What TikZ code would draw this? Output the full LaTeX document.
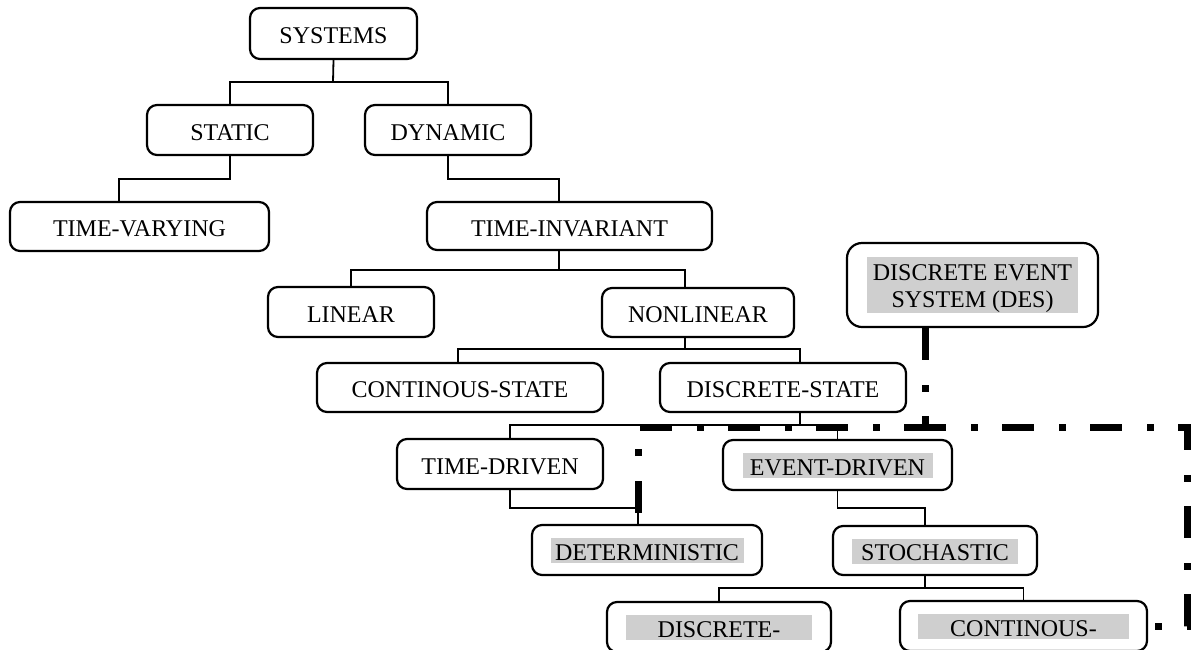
\documentclass[tikz,border=0pt]{standalone}
\usepackage{fontspec}
\setmainfont{Liberation Serif}
\usetikzlibrary{backgrounds}
\definecolor{hlgray}{gray}{0.81}
% shaded label of a fixed width
\newcommand\hlbar[2]{{\setlength{\fboxsep}{0pt}\colorbox{hlgray}{\makebox[#1]{\rule[-1.5pt]{0pt}{12.5pt}#2}}}}
% shaded label of two lines
\newcommand\hltwo[3]{{\setlength{\fboxsep}{0pt}\renewcommand\arraystretch{0}\colorbox{hlgray}{\begin{tabular}{@{}c@{}}\makebox[#1]{\rule[-2.5pt]{0pt}{14pt}#2}\\\makebox[#1]{\rule[-2.5pt]{0pt}{13.5pt}#3}\end{tabular}}}}
\tikzset{
  box/.style={draw, line width=1.1pt, rounded corners=5pt, fill=white, inner sep=0pt,
    font=\fontsize{12pt}{14.5pt}\selectfont},
  box1/.style={box, text height=10.4pt, text depth=0pt},
  sz/.style 2 args={minimum width=#1*0.5pt, minimum height=#2*0.5pt},
  link/.style={line width=0.9pt},
  desline/.style={line width=3.5pt, dash pattern=on 16pt off 12.5pt on 3.5pt off 12pt},
}
\begin{document}
\begin{tikzpicture}[x=0.5pt,y=-0.5pt]
\path[use as bounding box] (0,0) rectangle (1194,649);
\clip (0,0) rectangle (1194,649);

% boxes
\node[box1, sz={167}{51}] (systems) at (333.5,33.5) {SYSTEMS};
\node[box1, sz={166}{50}] (static) at (230,130) {STATIC};
\node[box1, sz={166}{50}] (dynamic) at (448,130) {DYNAMIC};
\node[box1, sz={259}{49}] (tv) at (139.5,226.5) {TIME-VARYING};
\node[box1, sz={285}{48}] (ti) at (569.5,226) {TIME-INVARIANT};
\node[box1, sz={166}{50}] (linear) at (351,312) {LINEAR};
\node[box1, sz={192}{49}] (nonlinear) at (698,312.5) {NONLINEAR};
\node[box1, sz={286}{49}] (cs) at (460,387.5) {CONTINOUS-STATE};
\node[box1, sz={246}{49}] (ds) at (783,387.5) {DISCRETE-STATE};
\node[box1, sz={206}{50}] (td) at (500,464) {TIME-DRIVEN};
\node[box1, sz={229}{50}] (ed) at (837.5,465) {\hlbar{95pt}{EVENT-DRIVEN}};
\node[box1, sz={230}{50}] (det) at (647,550) {\hlbar{96.5pt}{DETERMINISTIC}};
\node[box1, sz={204}{49}] (sto) at (935,550.5) {\hlbar{83pt}{STOCHASTIC}};
\node[box1, sz={224}{50}] (disc) at (719,627) {\hlbar{93pt}{DISCRETE-}};
\node[box1, sz={247}{50}] (cont) at (1023.5,626) {\hlbar{105.5pt}{CONTINOUS-}};
\node[box, rounded corners=7.5pt, sz={251}{84}] (des) at (972.5,285)
  {\hltwo{105.5pt}{DISCRETE EVENT}{SYSTEM (DES)}};

% junctions of the tree
\coordinate (j1) at (333,82);
\coordinate (j4) at (559,270);
\coordinate (j5) at (685,349);
\coordinate (j6) at (800,425);
\coordinate (j9) at (925,588);

% tree connectors
\draw[link] (systems.south) -- (j1);
\draw[link] (static.north) |- (j1) -| (dynamic.north);
\draw[link] (static.south) -- ++(0,23) -| ([xshift=-10.25pt]tv.north);
\draw[link] (dynamic.south) -- ++(0,23) -| ([xshift=-5.25pt]ti.north);
\draw[link] ([xshift=-5.25pt]ti.south) -- (j4);
\draw[link] (linear.north) |- (j4) -| ([xshift=-6.5pt]nonlinear.north);
\draw[link] ([xshift=-6.5pt]nonlinear.south) -- (j5);
\draw[link] ([xshift=-1pt]cs.north) |- (j5) -| ([xshift=8.5pt]ds.north);
\draw[link] ([xshift=8.5pt]ds.south) -- (j6);
\draw[link] ([xshift=5pt]td.north) |- (j6) -| (ed.north);
\draw[link] ([xshift=5pt]td.south) -- ++(0,18) -| ([xshift=-4.5pt]det.north);
\draw[link] (ed.south) -- ++(0,17) -| ([xshift=-5pt]sto.north);
\draw[link] ([xshift=-5pt]sto.south) -- (j9);
\draw[link] (disc.north) |- (j9) -| (cont.north);

% dash-dot frame round the discrete event branch
\coordinate (fa) at (638,513);
\coordinate (fb) at (638,427);
\coordinate (fc) at (940,427);
\coordinate (fd) at (925,427);
\coordinate (fe) at (1187,427);
\coordinate (ff) at (1187,626);
\coordinate (fg) at (1120,626);
\begin{pgfonlayer}{background}
\draw[desline] (fa) -- (fb) -- (fc);
\draw[desline] ([xshift=-23.75pt]des.south) -- (fd) -- (fe) -- (ff) -- (fg);
\end{pgfonlayer}
\end{tikzpicture}
\end{document}
